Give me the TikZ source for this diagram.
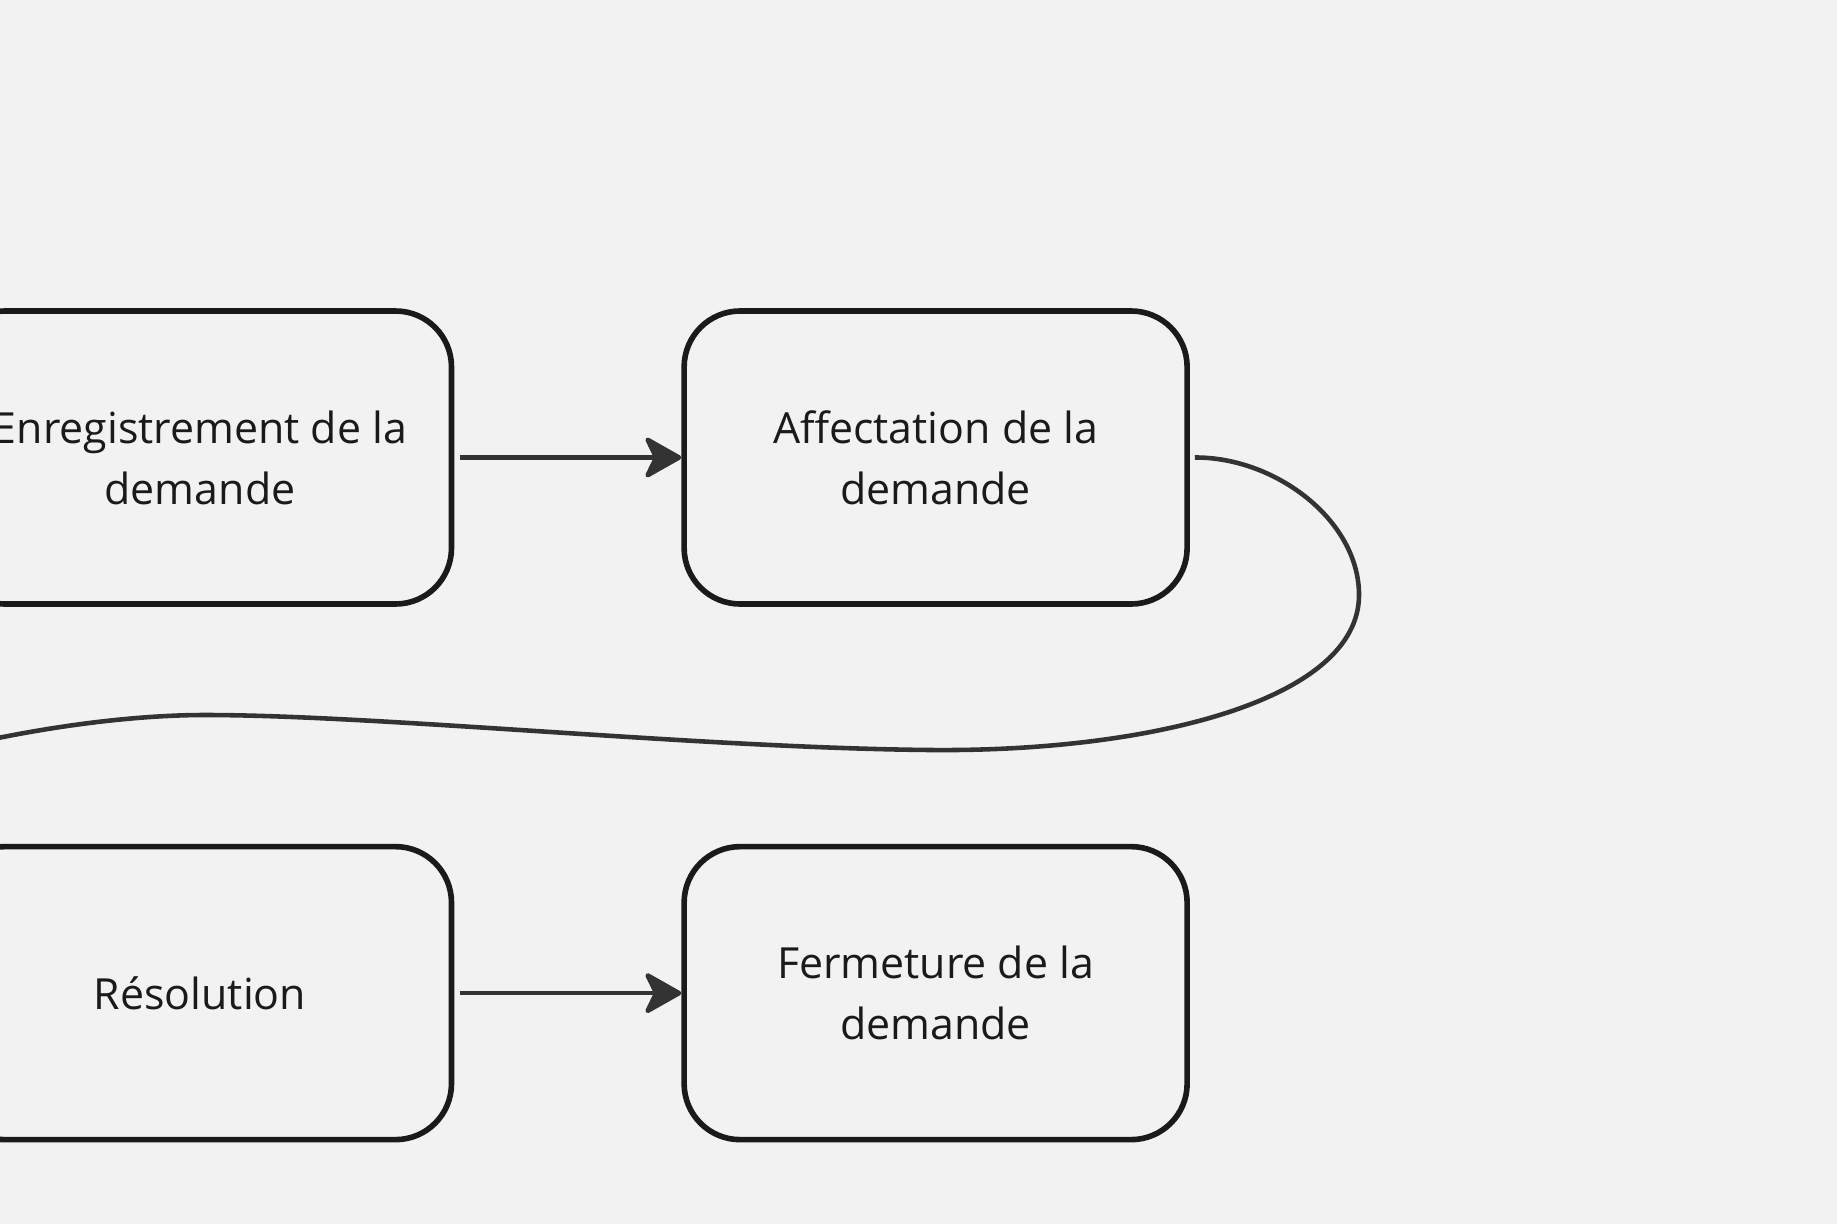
\documentclass[tikz,border=0pt]{standalone}
\usepackage{fontspec}
\setmainfont{Open Sans}
\usetikzlibrary{positioning,arrows.meta}
\definecolor{fond}{HTML}{F2F2F2}
\definecolor{trait}{HTML}{1A1A1A}
\definecolor{lien}{HTML}{333333}
\tikzset{
boite/.style={draw=trait, fill=fond, line width=1.6pt, rounded corners=0.56cm,
  minimum width=5.03cm, minimum height=2.93cm, align=center, text=trait,
  font=\fontsize{12.2}{17.4}\selectfont},
fleche/.style={draw=lien, line width=1.3pt, shorten <=0.06cm,
  -{Stealth[length=4.1mm,width=4.6mm,inset=1.1mm,round]}}
}
\begin{document}
\begin{tikzpicture}
\fill[fond] (0,0) rectangle (18.37,-12.24);
\useasboundingbox (0,0) rectangle (18.37,-12.24);
\node[boite] (enreg) at (2.0,-4.575) {Enregistrement de la\\demande};
\node[boite, right=2.27cm of enreg] (affect) {Affectation de la\\demande};
\node[boite, below=2.37cm of enreg] (resol) {Résolution};
\node[boite, right=2.27cm of resol] (ferme) {Fermeture de la\\demande};
\coordinate (sortie) at (-1.5,-7.8);
\draw[fleche] (enreg) -- (affect);
\draw[fleche] (resol) -- (ferme);
% lien vers la suite, hors cadre
\draw[lien, line width=1.3pt] ([xshift=0.05cm]affect.east)
  .. controls (12.75,-4.57) and (13.59,-5.2) .. (13.59,-5.95)
  .. controls (13.59,-7.0) and (11.5,-7.52) .. (9.31,-7.50)
  .. controls (7.0,-7.48) and (3.8,-7.15) .. (2.05,-7.15)
  .. controls (0.8,-7.15) and (-0.8,-7.5) .. (sortie);
\end{tikzpicture}
\end{document}
